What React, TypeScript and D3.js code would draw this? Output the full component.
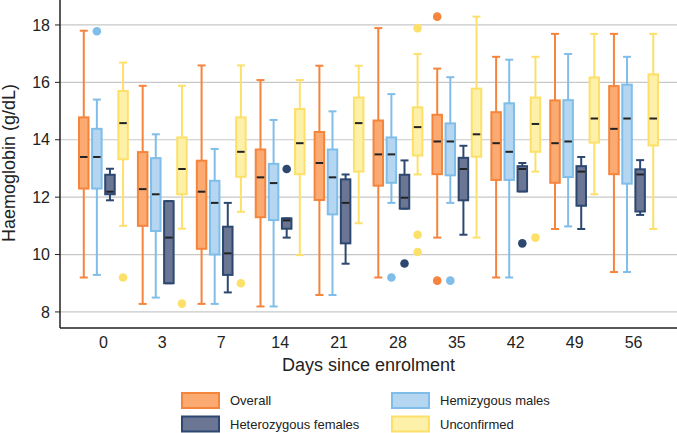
import React from "react";
import * as d3 from "d3";

const days = ["0", "3", "7", "14", "21", "28", "35", "42", "49", "56"];
const seriesNames = ["Overall", "Hemizygous males", "Heterozygous females", "Unconfirmed"];
const yTicks = [8, 10, 12, 14, 16, 18];

// [min, q1, median, q3, max] per day
const overallStats = [
  [9.2, 12.3, 13.4, 14.78, 17.8],
  [8.28, 11.0, 12.28, 13.57, 15.88],
  [8.28, 10.2, 12.19, 13.27, 16.59],
  [8.19, 11.3, 12.69, 13.66, 16.08],
  [8.59, 11.9, 13.19, 14.27, 16.58],
  [9.2, 12.4, 13.49, 14.67, 17.89],
  [10.59, 12.8, 13.94, 14.87, 16.48],
  [9.2, 12.6, 13.88, 14.96, 16.89],
  [10.89, 12.5, 13.88, 15.37, 17.69],
  [9.39, 12.8, 14.38, 15.87, 17.69],
];
const hemiStats = [
  [9.29, 12.3, 13.4, 14.38, 15.4],
  [8.5, 10.82, 12.1, 13.36, 14.19],
  [8.28, 10.0, 11.8, 12.57, 13.68],
  [8.19, 11.2, 12.49, 13.16, 14.69],
  [8.59, 11.4, 12.69, 13.66, 14.99],
  [11.8, 12.5, 13.49, 14.08, 15.59],
  [11.8, 12.76, 13.94, 14.57, 16.18],
  [9.2, 12.6, 13.58, 15.27, 16.79],
  [10.98, 12.7, 13.94, 15.38, 16.99],
  [9.39, 12.47, 14.74, 15.92, 16.89],
];
const heteroStats = [
  [11.89, 12.1, 12.19, 12.78, 12.99],
  [9.0, 9.0, 10.59, 11.86, 11.86],
  [8.68, 9.29, 10.04, 10.97, 11.8],
  [10.59, 10.9, 11.19, 11.26, 11.26],
  [9.68, 10.39, 11.8, 12.62, 12.79],
  [11.6, 11.6, 11.98, 12.78, 13.28],
  [10.69, 11.89, 12.98, 13.37, 13.79],
  [12.2, 12.2, 12.98, 13.08, 13.19],
  [10.89, 11.7, 12.89, 13.08, 13.4],
  [11.38, 11.5, 12.79, 12.97, 13.29],
];
const unconfStats = [
  [11.0, 13.32, 14.58, 15.7, 16.69],
  [10.9, 12.1, 12.98, 14.08, 15.88],
  [11.49, 12.71, 13.58, 14.78, 16.59],
  [9.98, 12.8, 13.88, 15.07, 16.08],
  [11.09, 12.89, 14.58, 15.47, 16.58],
  [12.79, 13.45, 14.44, 15.13, 16.99],
  [10.59, 13.41, 14.19, 15.78, 18.29],
  [12.89, 13.58, 14.55, 15.47, 16.89],
  [12.1, 13.9, 14.74, 16.17, 17.69],
  [10.89, 13.8, 14.74, 16.28, 17.69],
];

// outliers: [dayIndex, value]
const overallOutliers = [[6, 18.29], [6, 9.09]];
const hemiOutliers = [[0, 17.78], [5, 9.2], [6, 9.09]];
const heteroOutliers = [[3, 12.98], [5, 9.69], [7, 10.39]];
const unconfOutliers = [[0, 9.2], [1, 8.29], [2, 9.0], [5, 17.89], [5, 10.69], [5, 10.09], [7, 10.59]];

const strokeColors = ["#f5843c", "#80bde8", "#2d4870", "#fde06a"];
const fillColors = ["#fbab72", "#b4d6f1", "#6b7695", "#fdf0a8"];

const allStats = [overallStats, hemiStats, heteroStats, unconfStats];
const allOutliers = [overallOutliers, hemiOutliers, heteroOutliers, unconfOutliers];

const W = 677;
const H = 433;
const plotLeft = 60;
const plotRight = 677;
const plotTop = 0;
const plotBottom = 328;
const FONT = "'Liberation Sans', Arial, sans-serif";

export default function App() {
  const x = d3
    .scaleBand<string>()
    .domain(days)
    .range([plotLeft, plotRight])
    .paddingInner(0)
    .paddingOuter(0.237);
  const sub = d3
    .scalePoint<number>()
    .domain([0, 1, 2, 3])
    .range([-19.65, 19.65]);
  const y = d3.scaleLinear().domain([7.44, 18.87]).range([plotBottom, plotTop]);
  const boxW = 9.5;
  const capW = 8;

  const cx = (di: number, si: number) => (x(days[di]) as number) + x.bandwidth() / 2 + (sub(si) as number);

  return (
    <svg
      width={W}
      height={H}
      style={{ position: "absolute", left: 0, top: 0, background: "#fff" }}
      fontFamily={FONT}
    >
      {/* gridlines */}
      {yTicks.map((t) => (
        <line key={"g" + t} x1={plotLeft} x2={plotRight} y1={y(t)} y2={y(t)} stroke="#c8c8c8" strokeWidth={1.2} />
      ))}
      {/* y ticks */}
      {yTicks.map((t) => (
        <g key={"yt" + t}>
          <line x1={plotLeft - 5} x2={plotLeft} y1={y(t)} y2={y(t)} stroke="#222" strokeWidth={1} />
          <text x={plotLeft - 10} y={y(t)} dy="0.35em" textAnchor="end" fontSize={16} fill="#222">
            {t}
          </text>
        </g>
      ))}
      {/* x tick labels */}
      {days.map((d) => (
        <text
          key={"xt" + d}
          x={(x(d) as number) + x.bandwidth() / 2}
          y={348}
          textAnchor="middle"
          fontSize={16}
          fill="#222"
        >
          {d}
        </text>
      ))}
      {/* boxes */}
      {allStats.map((stats, si) =>
        stats.map((s, di) => {
          const c = cx(di, si);
          const [mn, q1, md, q3, mx] = s;
          return (
            <g key={`b${si}-${di}`}>
              <line x1={c} x2={c} y1={y(mx)} y2={y(q3)} stroke={strokeColors[si]} strokeWidth={2} />
              <line x1={c} x2={c} y1={y(q1)} y2={y(mn)} stroke={strokeColors[si]} strokeWidth={2} />
              <line x1={c - capW / 2} x2={c + capW / 2} y1={y(mx)} y2={y(mx)} stroke={strokeColors[si]} strokeWidth={2} />
              <line x1={c - capW / 2} x2={c + capW / 2} y1={y(mn)} y2={y(mn)} stroke={strokeColors[si]} strokeWidth={2} />
              <rect
                x={c - boxW / 2}
                y={y(q3)}
                width={boxW}
                height={Math.max(0.5, y(q1) - y(q3))}
                fill={fillColors[si]}
                stroke={strokeColors[si]}
                strokeWidth={2}
              />
              <line x1={c - boxW / 2 + 1} x2={c + boxW / 2 - 1} y1={y(md)} y2={y(md)} stroke="#222" strokeWidth={2} />
            </g>
          );
        })
      )}
      {/* outliers */}
      {allOutliers.map((outs, si) =>
        outs.map(([di, v], k) => (
          <circle key={`o${si}-${k}`} cx={cx(di, si)} cy={y(v)} r={4.3} fill={strokeColors[si]} />
        ))
      )}
      {/* axes lines */}
      <line x1={plotLeft} x2={plotLeft} y1={plotTop} y2={plotBottom} stroke="#222" strokeWidth={1.5} />
      <line x1={plotLeft} x2={plotRight} y1={plotBottom} y2={plotBottom} stroke="#222" strokeWidth={1.5} />
      {/* axis titles */}
      <text x={(plotLeft + plotRight) / 2} y={371} textAnchor="middle" fontSize={18} fill="#222">
        Days since enrolment
      </text>
      <text transform={`translate(15, 163) rotate(-90)`} textAnchor="middle" fontSize={18} fill="#222">
        Haemoglobin (g/dL)
      </text>
      {/* legend */}
      {seriesNames.map((name, i) => {
        const order = [0, 2, 1, 3][i];
        const col = Math.floor(order / 2);
        const row = order % 2;
        const lx = col === 0 ? 182 : 392;
        const ly = 393 + row * 23.5;
        return (
          <g key={"l" + i}>
            <rect x={lx} y={ly} width={37} height={15} fill={fillColors[i]} stroke={strokeColors[i]} strokeWidth={2} />
            <text x={lx + 48} y={ly + 7.5} dy="0.35em" fontSize={13} fill="#222">
              {name}
            </text>
          </g>
        );
      })}
    </svg>
  );
}
